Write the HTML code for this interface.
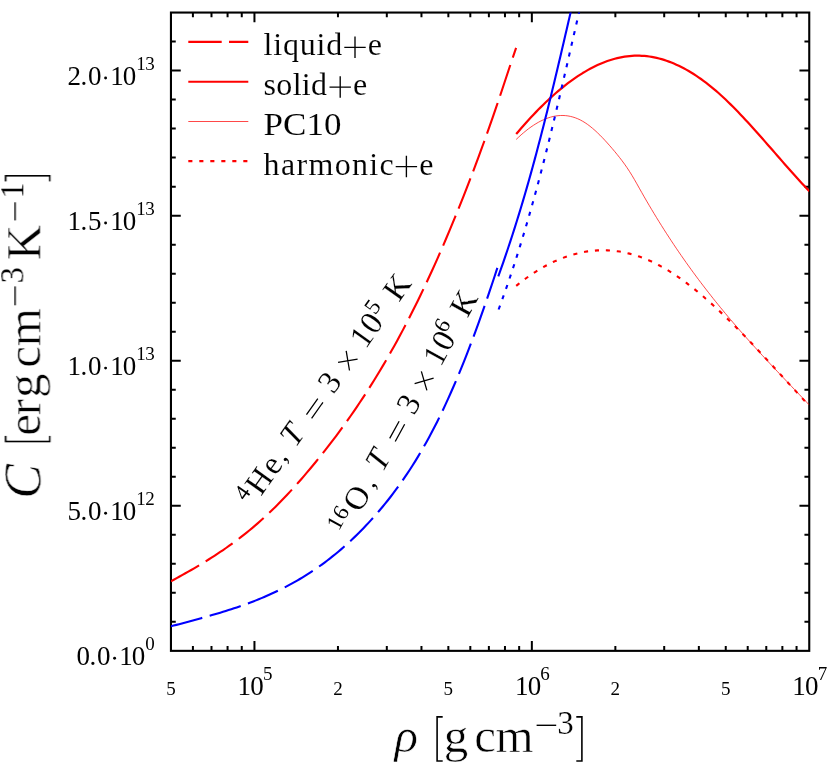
<!DOCTYPE html>
<html><head><meta charset="utf-8"><title>Heat capacity</title>
<style>
html,body{margin:0;padding:0;background:#fff;}
body{width:830px;height:766px;overflow:hidden;font-family:"Liberation Serif",serif;}
svg{display:block;}
</style></head><body>
<svg width="830" height="766" viewBox="0 0 830 766">
<rect width="830" height="766" fill="#fff"/>
<g fill="none" stroke="#000" stroke-linecap="butt">
<rect x="170.95" y="12.55" width="638.3" height="638.3" stroke-width="2.1"/>
<path d="M192.91 650.85v-4.8M192.91 12.55v4.8M211.49 650.85v-4.8M211.49 12.55v4.8M227.57 650.85v-4.8M227.57 12.55v4.8M241.76 650.85v-4.8M241.76 12.55v4.8M254.45 650.85v-9.8M254.45 12.55v9.8M337.96 650.85v-4.8M337.96 12.55v4.8M386.81 650.85v-4.8M386.81 12.55v4.8M421.46 650.85v-4.8M421.46 12.55v4.8M448.35 650.85v-4.8M448.35 12.55v4.8M470.31 650.85v-4.8M470.31 12.55v4.8M488.88 650.85v-4.8M488.88 12.55v4.8M504.97 650.85v-4.8M504.97 12.55v4.8M519.16 650.85v-4.8M519.16 12.55v4.8M531.85 650.85v-9.8M531.85 12.55v9.8M615.36 650.85v-4.8M615.36 12.55v4.8M664.2 650.85v-4.8M664.2 12.55v4.8M698.86 650.85v-4.8M698.86 12.55v4.8M725.75 650.85v-4.8M725.75 12.55v4.8M747.71 650.85v-4.8M747.71 12.55v4.8M766.28 650.85v-4.8M766.28 12.55v4.8M782.37 650.85v-4.8M782.37 12.55v4.8M796.56 650.85v-4.8M796.56 12.55v4.8M170.95 621.84h4.8M809.25 621.84h-4.8M170.95 592.82h4.8M809.25 592.82h-4.8M170.95 563.81h4.8M809.25 563.81h-4.8M170.95 534.8h4.8M809.25 534.8h-4.8M170.95 505.78h9.8M809.25 505.78h-9.8M170.95 476.77h4.8M809.25 476.77h-4.8M170.95 447.75h4.8M809.25 447.75h-4.8M170.95 418.74h4.8M809.25 418.74h-4.8M170.95 389.73h4.8M809.25 389.73h-4.8M170.95 360.71h9.8M809.25 360.71h-9.8M170.95 331.7h4.8M809.25 331.7h-4.8M170.95 302.69h4.8M809.25 302.69h-4.8M170.95 273.67h4.8M809.25 273.67h-4.8M170.95 244.66h4.8M809.25 244.66h-4.8M170.95 215.65h9.8M809.25 215.65h-9.8M170.95 186.63h4.8M809.25 186.63h-4.8M170.95 157.62h4.8M809.25 157.62h-4.8M170.95 128.6h4.8M809.25 128.6h-4.8M170.95 99.59h4.8M809.25 99.59h-4.8M170.95 70.58h9.8M809.25 70.58h-9.8M170.95 41.56h4.8M809.25 41.56h-4.8" stroke-width="2"/>
</g>
<clipPath id="fr"><rect x="170.95" y="12.55" width="638.3" height="638.3"/></clipPath>
<g fill="none" stroke-linecap="butt" stroke-linejoin="round" clip-path="url(#fr)">
<path d="M170.9 581.32 L173.8 579.74 L176.7 578.15 L179.6 576.54 L182.5 574.92 L185.4 573.29 L188.31 571.64 L191.21 569.98 L194.11 568.29 L197.01 566.58 L199.91 564.85 L202.81 563.1 L205.71 561.32 L208.61 559.51 L211.51 557.67 L214.41 555.81 L217.31 553.91 L220.21 551.98 L223.12 550.01 L226.02 548.01 L228.92 545.97 L231.82 543.89 L234.72 541.76 L237.62 539.6 L240.52 537.39 L243.42 535.13 L246.32 532.83 L249.22 530.48 L252.12 528.08 L255.02 525.63 L257.93 523.12 L260.83 520.56 L263.73 517.94 L266.63 515.26 L269.53 512.53 L272.43 509.74 L275.33 506.89 L278.23 503.99 L281.13 501.04 L284.03 498.03 L286.93 494.97 L289.83 491.87 L292.74 488.71 L295.64 485.5 L298.54 482.24 L301.44 478.94 L304.34 475.59 L307.24 472.19 L310.14 468.75 L313.04 465.26 L315.94 461.73 L318.84 458.16 L321.74 454.55 L324.64 450.89 L327.55 447.19 L330.45 443.44 L333.35 439.64 L336.25 435.79 L339.15 431.89 L342.05 427.93 L344.95 423.93 L347.85 419.86 L350.75 415.74 L353.65 411.55 L356.55 407.31 L359.45 403.01 L362.36 398.64 L365.26 394.2 L368.16 389.7 L371.06 385.13 L373.96 380.49 L376.86 375.77 L379.76 370.99 L382.66 366.13 L385.56 361.19 L388.46 356.17 L391.36 351.08 L394.26 345.9 L397.17 340.64 L400.07 335.3 L402.97 329.87 L405.87 324.36 L408.77 318.76 L411.67 313.06 L414.57 307.28 L417.47 301.41 L420.37 295.45 L423.27 289.4 L426.17 283.26 L429.07 277.03 L431.98 270.72 L434.88 264.31 L437.78 257.81 L440.68 251.22 L443.58 244.55 L446.48 237.78 L449.38 230.92 L452.28 223.97 L455.18 216.93 L458.08 209.8 L460.98 202.58 L463.88 195.27 L466.79 187.87 L469.69 180.38 L472.59 172.79 L475.49 165.12 L478.39 157.34 L481.29 149.46 L484.19 141.49 L487.09 133.4 L489.99 125.2 L492.89 116.88 L495.79 108.45 L498.69 99.89 L501.6 91.23 L504.5 82.5 L507.4 73.76 L510.3 65.04 L513.2 56.41 L516.1 47.91" stroke="#ff0000" stroke-width="2.1" stroke-dasharray="32.4 7.7"/>
<path d="M516.2 134.07 L518.66 131.17 L521.13 128.31 L523.59 125.5 L526.06 122.73 L528.52 120.01 L530.98 117.33 L533.45 114.7 L535.91 112.12 L538.37 109.59 L540.84 107.11 L543.3 104.68 L545.77 102.29 L548.23 99.96 L550.69 97.68 L553.16 95.46 L555.62 93.28 L558.09 91.16 L560.55 89.1 L563.01 87.08 L565.48 85.13 L567.94 83.23 L570.41 81.39 L572.87 79.61 L575.33 77.88 L577.8 76.21 L580.26 74.61 L582.72 73.06 L585.19 71.58 L587.65 70.15 L590.12 68.79 L592.58 67.49 L595.04 66.26 L597.51 65.09 L599.97 63.99 L602.44 62.95 L604.9 61.97 L607.36 61.07 L609.83 60.23 L612.29 59.46 L614.75 58.76 L617.22 58.13 L619.68 57.57 L622.15 57.08 L624.61 56.66 L627.07 56.31 L629.54 56.04 L632 55.84 L634.47 55.71 L636.93 55.66 L639.39 55.69 L641.86 55.79 L644.32 55.96 L646.78 56.2 L649.25 56.52 L651.71 56.91 L654.18 57.36 L656.64 57.9 L659.1 58.5 L661.57 59.17 L664.03 59.91 L666.5 60.72 L668.96 61.6 L671.42 62.54 L673.89 63.56 L676.35 64.64 L678.82 65.78 L681.28 67 L683.74 68.28 L686.21 69.62 L688.67 71.03 L691.13 72.5 L693.6 74.04 L696.06 75.64 L698.53 77.3 L700.99 79.02 L703.45 80.81 L705.92 82.66 L708.38 84.56 L710.85 86.53 L713.31 88.56 L715.77 90.65 L718.24 92.79 L720.7 95 L723.16 97.26 L725.63 99.57 L728.09 101.93 L730.56 104.34 L733.02 106.79 L735.48 109.29 L737.95 111.83 L740.41 114.4 L742.88 117.01 L745.34 119.65 L747.8 122.32 L750.27 125.02 L752.73 127.74 L755.19 130.48 L757.66 133.25 L760.12 136.03 L762.59 138.82 L765.05 141.62 L767.51 144.44 L769.98 147.26 L772.44 150.08 L774.91 152.9 L777.37 155.73 L779.83 158.55 L782.3 161.36 L784.76 164.16 L787.23 166.96 L789.69 169.74 L792.15 172.51 L794.62 175.27 L797.08 178 L799.54 180.72 L802.01 183.41 L804.47 186.07 L806.94 188.71 L809.4 191.32" stroke="#ff0000" stroke-width="2.2"/>
<path d="M516.2 139.43 L518.66 137.09 L521.12 134.85 L523.59 132.72 L526.05 130.69 L528.51 128.78 L530.97 126.98 L533.44 125.31 L535.9 123.75 L538.36 122.31 L540.82 121.01 L543.28 119.83 L545.75 118.79 L548.21 117.88 L550.67 117.11 L553.13 116.49 L555.59 116.01 L558.06 115.68 L560.52 115.51 L562.98 115.48 L565.44 115.62 L567.91 115.92 L570.37 116.38 L572.83 117 L575.29 117.8 L577.75 118.78 L580.22 119.92 L582.68 121.25 L585.14 122.76 L587.6 124.45 L590.07 126.3 L592.53 128.3 L594.99 130.45 L597.45 132.73 L599.91 135.13 L602.38 137.64 L604.84 140.26 L607.3 142.96 L609.76 145.74 L612.23 148.59 L614.69 151.5 L617.15 154.49 L619.61 157.58 L622.07 160.78 L624.54 164.14 L627 167.66 L629.46 171.38 L631.92 175.31 L634.38 179.48 L636.85 183.8 L639.31 188.2 L641.77 192.56 L644.23 196.87 L646.7 201.13 L649.16 205.33 L651.62 209.47 L654.08 213.57 L656.54 217.61 L659.01 221.61 L661.47 225.55 L663.93 229.45 L666.39 233.29 L668.86 237.09 L671.32 240.85 L673.78 244.56 L676.24 248.22 L678.7 251.84 L681.17 255.42 L683.63 258.96 L686.09 262.46 L688.55 265.91 L691.02 269.33 L693.48 272.71 L695.94 276.05 L698.4 279.36 L700.86 282.63 L703.33 285.86 L705.79 289.06 L708.25 292.23 L710.71 295.37 L713.17 298.48 L715.64 301.55 L718.1 304.6 L720.56 307.62 L723.02 310.61 L725.49 313.58 L727.95 316.52 L730.41 319.43 L732.87 322.32 L735.33 325.19 L737.8 328.03 L740.26 330.86 L742.72 333.66 L745.18 336.45 L747.65 339.21 L750.11 341.96 L752.57 344.69 L755.03 347.41 L757.49 350.11 L759.96 352.79 L762.42 355.47 L764.88 358.13 L767.34 360.77 L769.81 363.41 L772.27 366.04 L774.73 368.66 L777.19 371.27 L779.65 373.88 L782.12 376.48 L784.58 379.07 L787.04 381.66 L789.5 384.25 L791.96 386.83 L794.43 389.41 L796.89 391.99 L799.35 394.57 L801.81 397.15 L804.28 399.74 L806.74 402.32 L809.2 404.91" stroke="#ff0000" stroke-width="0.72"/>
<path d="M516.2 285.84 L518.66 283.86 L521.12 281.94 L523.59 280.07 L526.05 278.26 L528.51 276.5 L530.97 274.8 L533.44 273.16 L535.9 271.57 L538.36 270.04 L540.82 268.57 L543.28 267.15 L545.75 265.79 L548.21 264.49 L550.67 263.24 L553.13 262.06 L555.59 260.92 L558.06 259.85 L560.52 258.83 L562.98 257.87 L565.44 256.96 L567.91 256.12 L570.37 255.33 L572.83 254.59 L575.29 253.92 L577.75 253.3 L580.22 252.74 L582.68 252.23 L585.14 251.79 L587.6 251.4 L590.07 251.07 L592.53 250.79 L594.99 250.58 L597.45 250.42 L599.91 250.31 L602.38 250.27 L604.84 250.29 L607.3 250.36 L609.76 250.49 L612.23 250.67 L614.69 250.92 L617.15 251.22 L619.61 251.58 L622.07 252 L624.54 252.48 L627 253.02 L629.46 253.61 L631.92 254.26 L634.38 254.97 L636.85 255.74 L639.31 256.57 L641.77 257.45 L644.23 258.4 L646.7 259.4 L649.16 260.46 L651.62 261.58 L654.08 262.75 L656.54 263.98 L659.01 265.27 L661.47 266.61 L663.93 268 L666.39 269.44 L668.86 270.93 L671.32 272.47 L673.78 274.07 L676.24 275.7 L678.7 277.39 L681.17 279.12 L683.63 280.89 L686.09 282.71 L688.55 284.57 L691.02 286.47 L693.48 288.41 L695.94 290.39 L698.4 292.41 L700.86 294.47 L703.33 296.56 L705.79 298.68 L708.25 300.84 L710.71 303.04 L713.17 305.26 L715.64 307.52 L718.1 309.8 L720.56 312.11 L723.02 314.46 L725.49 316.82 L727.95 319.22 L730.41 321.64 L732.87 324.08 L735.33 326.54 L737.8 329.03 L740.26 331.53 L742.72 334.06 L745.18 336.6 L747.65 339.16 L750.11 341.74 L752.57 344.33 L755.03 346.94 L757.49 349.56 L759.96 352.19 L762.42 354.83 L764.88 357.48 L767.34 360.15 L769.81 362.82 L772.27 365.49 L774.73 368.18 L777.19 370.86 L779.65 373.55 L782.12 376.25 L784.58 378.94 L787.04 381.64 L789.5 384.34 L791.96 387.03 L794.43 389.72 L796.89 392.41 L799.35 395.09 L801.81 397.77 L804.28 400.45 L806.74 403.11 L809.2 405.77" stroke="#ff0000" stroke-width="2.1" stroke-dasharray="4.1 6.85"/>
<path d="M170.9 626.35 L173.64 625.61 L176.39 624.87 L179.13 624.14 L181.88 623.4 L184.62 622.67 L187.36 621.93 L190.11 621.19 L192.85 620.45 L195.6 619.7 L198.34 618.95 L201.09 618.2 L203.83 617.43 L206.57 616.66 L209.32 615.88 L212.06 615.09 L214.81 614.29 L217.55 613.48 L220.29 612.66 L223.04 611.82 L225.78 610.97 L228.53 610.1 L231.27 609.22 L234.01 608.31 L236.76 607.39 L239.5 606.46 L242.25 605.5 L244.99 604.52 L247.74 603.51 L250.48 602.49 L253.22 601.44 L255.97 600.36 L258.71 599.26 L261.46 598.13 L264.2 596.98 L266.94 595.79 L269.69 594.58 L272.43 593.33 L275.18 592.05 L277.92 590.74 L280.66 589.4 L283.41 588.02 L286.15 586.61 L288.9 585.15 L291.64 583.67 L294.39 582.14 L297.13 580.57 L299.87 578.97 L302.62 577.32 L305.36 575.63 L308.11 573.9 L310.85 572.12 L313.59 570.3 L316.34 568.43 L319.08 566.51 L321.83 564.55 L324.57 562.53 L327.31 560.47 L330.06 558.36 L332.8 556.19 L335.55 553.97 L338.29 551.7 L341.04 549.37 L343.78 546.99 L346.52 544.55 L349.27 542.05 L352.01 539.5 L354.76 536.88 L357.5 534.21 L360.24 531.47 L362.99 528.67 L365.73 525.8 L368.48 522.88 L371.22 519.88 L373.96 516.83 L376.71 513.7 L379.45 510.5 L382.2 507.24 L384.94 503.9 L387.69 500.48 L390.43 496.99 L393.17 493.41 L395.92 489.74 L398.66 485.98 L401.41 482.13 L404.15 478.18 L406.89 474.13 L409.64 469.97 L412.38 465.71 L415.13 461.33 L417.87 456.84 L420.61 452.23 L423.36 447.5 L426.1 442.65 L428.85 437.67 L431.59 432.55 L434.34 427.3 L437.08 421.91 L439.82 416.38 L442.57 410.71 L445.31 404.89 L448.06 398.92 L450.8 392.8 L453.54 386.54 L456.29 380.13 L459.03 373.59 L461.78 366.9 L464.52 360.07 L467.26 353.1 L470.01 345.99 L472.75 338.75 L475.5 331.36 L478.24 323.85 L480.99 316.2 L483.73 308.41 L486.47 300.5 L489.22 292.45 L491.96 284.28 L494.71 275.97 L497.45 267.54" stroke="#0000ff" stroke-width="2.1" stroke-dasharray="32.5 7.7"/>
<path d="M498.3 276.3 L500.77 269.42 L503.18 262.54 L505.55 255.66 L507.88 248.78 L510.16 241.9 L512.41 235.02 L514.61 228.14 L516.77 221.26 L518.9 214.38 L520.99 207.51 L523.05 200.63 L525.07 193.75 L527.06 186.87 L529.02 179.99 L530.95 173.11 L532.85 166.23 L534.72 159.35 L536.57 152.47 L538.39 145.59 L540.19 138.71 L541.97 131.83 L543.73 124.95 L545.46 118.07 L547.18 111.19 L548.88 104.31 L550.57 97.43 L552.24 90.55 L553.9 83.67 L555.55 76.79 L557.18 69.92 L558.81 63.04 L560.43 56.16 L562.04 49.28 L563.64 42.4 L565.24 35.52 L566.84 28.64 L568.44 21.76 L570.04 14.88 L571.63 8" stroke="#0000ff" stroke-width="2.1"/>
<path d="M498.61 309.5 L501.43 301.77 L504.19 294.04 L506.89 286.31 L509.54 278.58 L512.12 270.85 L514.66 263.12 L517.14 255.38 L519.57 247.65 L521.95 239.92 L524.28 232.19 L526.57 224.46 L528.82 216.73 L531.02 209 L533.19 201.27 L535.32 193.54 L537.41 185.81 L539.47 178.08 L541.5 170.35 L543.5 162.62 L545.47 154.88 L547.41 147.15 L549.33 139.42 L551.23 131.69 L553.1 123.96 L554.96 116.23 L556.8 108.5 L558.63 100.77 L560.44 93.04 L562.24 85.31 L564.04 77.58 L565.82 69.85 L567.6 62.12 L569.38 54.38 L571.15 46.65 L572.93 38.92 L574.7 31.19 L576.48 23.46 L578.27 15.73 L580.06 8" stroke="#0000ff" stroke-width="2.1" stroke-dasharray="4.1 6.85"/>
<path d="M188.3 41.9H248.3" stroke="#ff0000" stroke-width="2.1" stroke-dasharray="33.4 7.3"/>
<path d="M188.3 81.7H248.3" stroke="#ff0000" stroke-width="2.1"/>
<path d="M188.3 121.5H248.3" stroke="#ff0000" stroke-width="0.72"/>
<path d="M188.3 161.1H248.3" stroke="#ff0000" stroke-width="2.1" stroke-dasharray="4.1 6.9"/>
</g>
<g font-family="'Liberation Serif', serif" fill="#000" text-anchor="middle" opacity="0.999">
<text x="83.3" y="665.05" font-size="27">0</text>
<text x="92.9" y="665.05" font-size="27">.</text>
<text x="103.8" y="665.05" font-size="27">0</text>
<circle cx="114.6" cy="658.25" r="1.45"/>
<text x="125.9" y="665.05" font-size="27">1</text>
<text x="138.5" y="665.05" font-size="27">0</text>
<text x="150.1" y="650.45" font-size="19">0</text>
<text x="74.3" y="519.98" font-size="27">5</text>
<text x="83.9" y="519.98" font-size="27">.</text>
<text x="94.8" y="519.98" font-size="27">0</text>
<circle cx="105.6" cy="513.18" r="1.45"/>
<text x="116.9" y="519.98" font-size="27">1</text>
<text x="129.5" y="519.98" font-size="27">0</text>
<text x="141.1" y="505.38" font-size="19">1</text>
<text x="149.9" y="505.38" font-size="19">2</text>
<text x="74.3" y="374.91" font-size="27">1</text>
<text x="83.9" y="374.91" font-size="27">.</text>
<text x="94.8" y="374.91" font-size="27">0</text>
<circle cx="105.6" cy="368.11" r="1.45"/>
<text x="116.9" y="374.91" font-size="27">1</text>
<text x="129.5" y="374.91" font-size="27">0</text>
<text x="141.1" y="360.31" font-size="19">1</text>
<text x="149.9" y="360.31" font-size="19">3</text>
<text x="74.3" y="229.85" font-size="27">1</text>
<text x="83.9" y="229.85" font-size="27">.</text>
<text x="94.8" y="229.85" font-size="27">5</text>
<circle cx="105.6" cy="223.05" r="1.45"/>
<text x="116.9" y="229.85" font-size="27">1</text>
<text x="129.5" y="229.85" font-size="27">0</text>
<text x="141.1" y="215.25" font-size="19">1</text>
<text x="149.9" y="215.25" font-size="19">3</text>
<text x="74.3" y="84.78" font-size="27">2</text>
<text x="83.9" y="84.78" font-size="27">.</text>
<text x="94.8" y="84.78" font-size="27">0</text>
<circle cx="105.6" cy="77.98" r="1.45"/>
<text x="116.9" y="84.78" font-size="27">1</text>
<text x="129.5" y="84.78" font-size="27">0</text>
<text x="141.1" y="70.18" font-size="19">1</text>
<text x="149.9" y="70.18" font-size="19">3</text>
<text x="170.95" y="694.6" font-size="19">5</text>
<text x="337.96" y="694.6" font-size="19">2</text>
<text x="448.35" y="694.6" font-size="19">5</text>
<text x="615.36" y="694.6" font-size="19">2</text>
<text x="725.75" y="694.6" font-size="19">5</text>
<text x="244.25" y="694.8" font-size="27">1</text>
<text x="257.05" y="694.8" font-size="27">0</text>
<text x="267.65" y="680.1" font-size="19">5</text>
<text x="521.65" y="694.8" font-size="27">1</text>
<text x="534.45" y="694.8" font-size="27">0</text>
<text x="545.05" y="680.1" font-size="19">6</text>
<text x="799.05" y="694.8" font-size="27">1</text>
<text x="811.85" y="694.8" font-size="27">0</text>
<text x="822.45" y="680.1" font-size="19">7</text>
<text x="263.6" y="55.3" font-size="32" text-anchor="start" textLength="78.6" lengthAdjust="spacing" stroke="#fff" stroke-width="0.1">liquid</text>
<path d="M344.3 47.3h21.4M355 36.6v21.4" fill="none" stroke="#000" stroke-width="1.35"/>
<text x="374.9" y="55.3" font-size="32" stroke="#fff" stroke-width="0.1">e</text>
<text x="263.6" y="95.05" font-size="32" text-anchor="start" textLength="63.4" lengthAdjust="spacing" stroke="#fff" stroke-width="0.1">solid</text>
<path d="M329.5 87.05h21.4M340.2 76.35v21.4" fill="none" stroke="#000" stroke-width="1.35"/>
<text x="360" y="95.05" font-size="32" stroke="#fff" stroke-width="0.1">e</text>
<text x="263.6" y="134.8" font-size="32" text-anchor="start" textLength="77.8" lengthAdjust="spacingAndGlyphs" stroke="#fff" stroke-width="0.1">PC10</text>
<text x="263.6" y="174.55" font-size="32" text-anchor="start" textLength="130.2" lengthAdjust="spacing" stroke="#fff" stroke-width="0.1">harmonic</text>
<path d="M395.7 166.55h21.4M406.4 155.85v21.4" fill="none" stroke="#000" stroke-width="1.35"/>
<text x="426.4" y="174.55" font-size="32" stroke="#fff" stroke-width="0.1">e</text>
<text x="406.2" y="751.5" font-size="49" font-style="italic" stroke="#fff" stroke-width="0.6">&#961;</text>
<path d="M442.7 716.9H437.1V761H442.7" fill="none" stroke="#000" stroke-width="1.6"/>
<text x="456" y="751.5" font-size="49" stroke="#fff" stroke-width="0.6">g</text>
<text x="485.2" y="751.5" font-size="49" stroke="#fff" stroke-width="0.6">c</text>
<text x="514.5" y="751.5" font-size="49" stroke="#fff" stroke-width="0.6">m</text>
<path d="M536.6 725.3H556.2" fill="none" stroke="#000" stroke-width="1.4"/>
<text x="565.5" y="733.7" font-size="33" stroke="#fff" stroke-width="0.2">3</text>
<path d="M576.3 716.9H581.9V761H576.3" fill="none" stroke="#000" stroke-width="1.6"/>
<g transform="translate(40.3 500) rotate(-90)">
<text x="18.5" y="0" font-size="52" font-style="italic" stroke="#fff" stroke-width="0.6">C</text>
<text x="75" y="0" font-size="49" stroke="#fff" stroke-width="0.6">e</text>
<text x="92.9" y="0" font-size="49" stroke="#fff" stroke-width="0.6">r</text>
<text x="114.2" y="0" font-size="49" stroke="#fff" stroke-width="0.6">g</text>
<text x="143.1" y="0" font-size="49" stroke="#fff" stroke-width="0.6">c</text>
<text x="172.9" y="0" font-size="49" stroke="#fff" stroke-width="0.6">m</text>
<text x="224.7" y="-17.4" font-size="33" stroke="#fff" stroke-width="0.2">3</text>
<text x="257.4" y="0" font-size="49" stroke="#fff" stroke-width="0.6">K</text>
<text x="309.5" y="-17.4" font-size="33" stroke="#fff" stroke-width="0.2">1</text>
<path d="M64.1 -34.6H58.5V9.5H64.1" fill="none" stroke="#000" stroke-width="1.6"/>
<path d="M318.6 -34.6H324.2V9.5H318.6" fill="none" stroke="#000" stroke-width="1.6"/>
<path d="M194.7 -25.2H213.6" fill="none" stroke="#000" stroke-width="1.4"/>
<path d="M279.6 -25.2H297.7" fill="none" stroke="#000" stroke-width="1.4"/>
</g>
<g transform="translate(267.7 487.3) rotate(-54.6)">
<text x="-19" y="-10.3" font-size="22.5">4</text>
<text x="0" y="0" font-size="32.5" stroke="#fff" stroke-width="0.12">H</text>
<text x="20.6" y="0" font-size="32.5" stroke="#fff" stroke-width="0.12">e</text>
<text x="33" y="-0.5" font-size="27">,</text>
<text x="57" y="0" font-size="32.5" font-style="italic" stroke="#fff" stroke-width="0.12">T</text>
<path d="M81.7 -10.5h19.6M81.7 -4.2h19.6" fill="none" stroke="#000" stroke-width="1.3"/>
<text x="121.5" y="0" font-size="32.5" stroke="#fff" stroke-width="0.12">3</text>
<path d="M142.6 -15l14 14M142.6 -1l14 -14" fill="none" stroke="#000" stroke-width="1.3"/>
<text x="177" y="0" font-size="32.5" stroke="#fff" stroke-width="0.12">1</text>
<text x="194" y="0" font-size="32.5" stroke="#fff" stroke-width="0.12">0</text>
<text x="208" y="-11.8" font-size="22.5">5</text>
<text x="238.3" y="0" font-size="32.5" stroke="#fff" stroke-width="0.12">K</text>
</g>
<g transform="translate(366.2 503.1) rotate(-61.25)">
<text x="-32.5" y="-10.3" font-size="22.5">1</text>
<text x="-20.5" y="-10.3" font-size="22.5">6</text>
<text x="0" y="0" font-size="32.5" stroke="#fff" stroke-width="0.12">O</text>
<text x="19.2" y="-0.5" font-size="27">,</text>
<text x="43.5" y="0" font-size="32.5" font-style="italic" stroke="#fff" stroke-width="0.12">T</text>
<path d="M68 -10.5h19.6M68 -4.2h19.6" fill="none" stroke="#000" stroke-width="1.3"/>
<text x="107.3" y="0" font-size="32.5" stroke="#fff" stroke-width="0.12">3</text>
<path d="M128 -15l14 14M128 -1l14 -14" fill="none" stroke="#000" stroke-width="1.3"/>
<text x="162.5" y="0" font-size="32.5" stroke="#fff" stroke-width="0.12">1</text>
<text x="179.5" y="0" font-size="32.5" stroke="#fff" stroke-width="0.12">0</text>
<text x="192.3" y="-11.8" font-size="22.5">6</text>
<text x="222.3" y="0" font-size="32.5" stroke="#fff" stroke-width="0.12">K</text>
</g>
</g>
</svg>
</body></html>
